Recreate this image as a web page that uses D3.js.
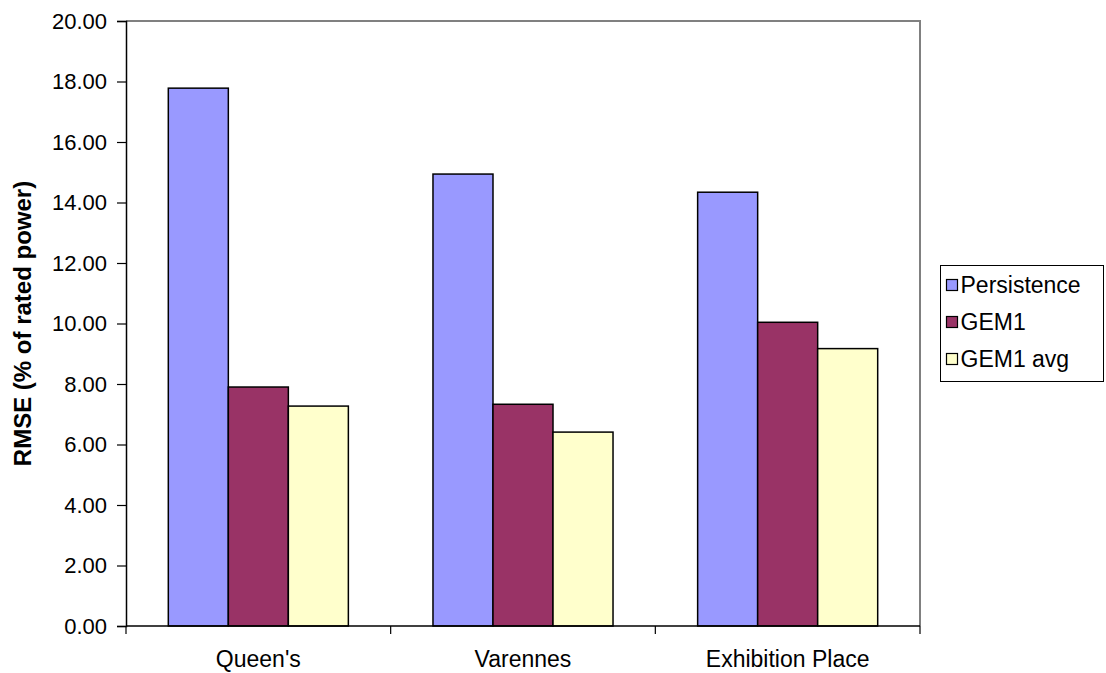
<!DOCTYPE html>
<html>
<head>
<meta charset="utf-8">
<script src="https://cdn.jsdelivr.net/npm/d3@7/dist/d3.min.js"></script>
<style>
  html, body { margin: 0; padding: 0; background: #fff; }
  svg { display: block; font-family: "Liberation Sans", Arial, sans-serif; }
</style>
</head>
<body>
<svg id="chart" width="1106" height="673"></svg>
<script>
// Sites and forecast methods
const categories = ["Queen's", "Varennes", "Exhibition Place"];
const seriesNames = ["Persistence", "GEM1", "GEM1 avg"];
const persistence = [17.78, 14.94, 14.34];
const gem1 = [7.90, 7.33, 10.04];
const gem1Avg = [7.27, 6.41, 9.17];
const yTicks = [0, 2, 4, 6, 8, 10, 12, 14, 16, 18, 20];
const colors = ["#9999ff", "#993366", "#ffffcc"];

const seriesValues = [persistence, gem1, gem1Avg];

const svg = d3.select("#chart");
const plot = { left: 126, right: 920, top: 21, bottom: 626 };

const x = d3.scaleBand().domain(categories).range([plot.left, plot.right]).paddingInner(0).paddingOuter(0);
const inner = d3.scaleBand().domain(seriesNames).range([0, x.bandwidth()]).paddingInner(0).paddingOuter(0.705);
const y = d3.scaleLinear().domain([0, 20]).range([plot.bottom, plot.top]);

// Plot area frame (top and right edges)
svg.append("path")
  .attr("d", `M${plot.left},${plot.top}H${plot.right}V${plot.bottom}`)
  .attr("fill", "none").attr("stroke", "#808080").attr("stroke-width", 2);

// Bars
const rows = categories.map((c, i) => ({ c, vals: seriesNames.map((s, j) => ({ s, j, v: seriesValues[j][i] })) }));
svg.append("g").selectAll("g").data(rows).join("g")
  .attr("transform", d => `translate(${x(d.c)},0)`)
  .selectAll("rect").data(d => d.vals).join("rect")
  .attr("x", d => inner(d.s))
  .attr("width", inner.bandwidth())
  .attr("y", d => y(d.v))
  .attr("height", d => y(0) - y(d.v))
  .attr("fill", d => colors[d.j])
  .attr("stroke", "#000").attr("stroke-width", 1.5);

// Y axis
const yAxis = d3.axisLeft(y).tickValues(yTicks).tickFormat(d3.format(".2f")).tickSize(9).tickPadding(10);
const gy = svg.append("g").attr("transform", `translate(${plot.left},0)`).call(yAxis);
gy.select(".domain").attr("stroke", "#000").attr("stroke-width", 1.5);
gy.selectAll(".tick line").attr("stroke", "#000").attr("stroke-width", 1.2);
gy.selectAll(".tick text").attr("font-size", 22).attr("fill", "#000").attr("font-family", "Liberation Sans, Arial, sans-serif");

// X axis: ticks on category boundaries
svg.append("line").attr("x1", plot.left).attr("x2", plot.right).attr("y1", plot.bottom).attr("y2", plot.bottom)
  .attr("stroke", "#000").attr("stroke-width", 1.5);
const bounds = categories.map(c => x(c)).concat([x(categories[categories.length - 1]) + x.bandwidth()]);
svg.append("g").selectAll("line").data(bounds).join("line")
  .attr("x1", d => d).attr("x2", d => d).attr("y1", plot.bottom).attr("y2", plot.bottom + 8)
  .attr("stroke", "#000").attr("stroke-width", 1.2);
svg.append("g").selectAll("text").data(categories).join("text")
  .attr("x", d => x(d) + x.bandwidth() / 2)
  .attr("y", 667)
  .attr("text-anchor", "middle")
  .attr("font-size", 23)
  .text(d => d);

// Y axis title
svg.append("text")
  .attr("transform", `translate(31,${(plot.top + plot.bottom) / 2}) rotate(-90)`)
  .attr("text-anchor", "middle")
  .attr("font-size", 24).attr("font-weight", "bold")
  .text("RMSE (% of rated power)");

// Legend
const lg = svg.append("g").attr("transform", "translate(940.5,265.5)");
lg.append("rect").attr("width", 163).attr("height", 116).attr("fill", "#fff").attr("stroke", "#000").attr("stroke-width", 1);
const li = lg.selectAll("g").data(seriesNames).join("g")
  .attr("transform", (d, i) => `translate(0,${19 + i * 37})`);
li.append("rect").attr("x", 6).attr("y", -5).attr("width", 11).attr("height", 11)
  .attr("fill", (d, i) => colors[i]).attr("stroke", "#000").attr("stroke-width", 1.2);
li.append("text").attr("x", 20).attr("y", 8).attr("font-size", 23).text(d => d);
</script>
</body>
</html>
